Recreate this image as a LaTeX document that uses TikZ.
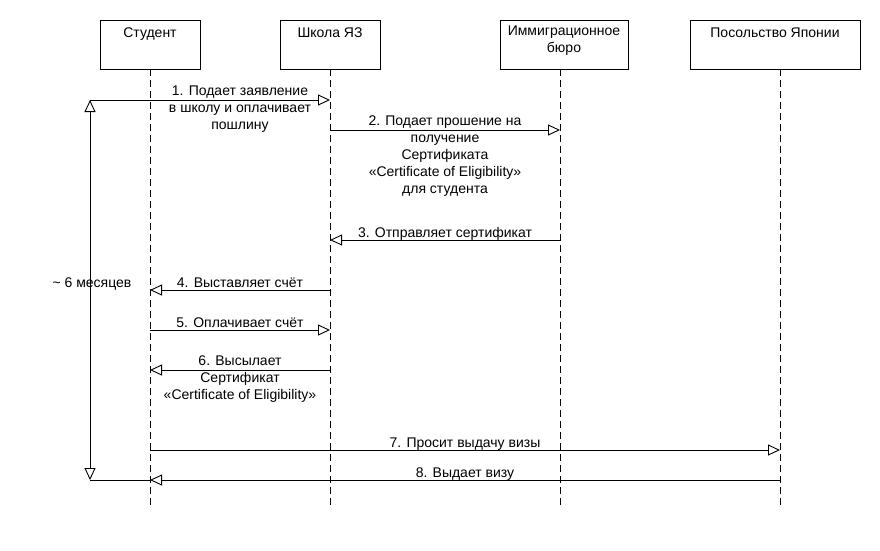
\documentclass[tikz,border=0pt]{standalone}
\usepackage{fontspec}
\setmainfont{Liberation Sans}
\usetikzlibrary{arrows.meta}

\tikzset{
	every actor/.style={draw, minimum height=49pt, inner sep=0pt},
	first line/.style={anchor=north, align=center, inner sep=0pt, execute at begin node=\strut},
	actor name/.style={first line, yshift=-5.8pt},
	lifeline/.style={dash pattern=on 7pt off 4pt},
	msg label/.style={midway, first line, yshift=14.4pt},
}

\begin{document}
\begin{tikzpicture}[x=1pt, y=-1pt, line width=0.9pt, >={Triangle[open, length=12pt, width=11pt]}, font=\fontsize{14}{17}\selectfont]
\useasboundingbox (0,0) rectangle (880,550);

% actors and lifelines
\foreach \n/\x/\l/\w/\t in {student/150/150/100/Студент, school/330/330/100/Школа ЯЗ, bureau/564/560/128/{Иммиграционное\\бюро}, embassy/775/780/170/Посольство Японии}
{
	\node [every actor/.try, minimum width=\w pt, label={[actor name]north:\t}] (\n) at (\x,44.5) {};
	\coordinate (\n-end) at (\l,505);
	\draw [lifeline] (\n.south -| \n-end) -- (\n-end);
}

% messages
\foreach \a/\b/\y/\t [count=\i] in {
	student/school/100/{1. Подает заявление\\в школу и оплачивает\\пошлину},
	school/bureau/130/{2. Подает прошение на\\получение\\Сертификата\\«Certificate of Eligibility»\\для студента},
	bureau/school/240/3. Отправляет сертификат,
	school/student/290/4. Выставляет счёт,
	student/school/330/5. Оплачивает счёт,
	school/student/370/{6. Высылает\\Сертификат\\«Certificate of Eligibility»},
	student/embassy/450/7. Просит выдачу визы,
	embassy/student/480/8. Выдает визу}
	\draw [->] (\a-end |- 0,\y) -- (\b-end |- 0,\y) node [msg label] (msg-\i) {\t};

% time span
\coordinate (span-top) at (90,100);
\coordinate (span-bottom) at (90,480);
\draw (student-end |- span-top) -- (span-top);
\draw [<->] (span-top) -- (span-bottom);
\draw (span-bottom) -- (student-end |- span-bottom);
\node [anchor=base] (span-label) at (92,287) {\textasciitilde\ 6 месяцев};

\end{tikzpicture}
\end{document}
